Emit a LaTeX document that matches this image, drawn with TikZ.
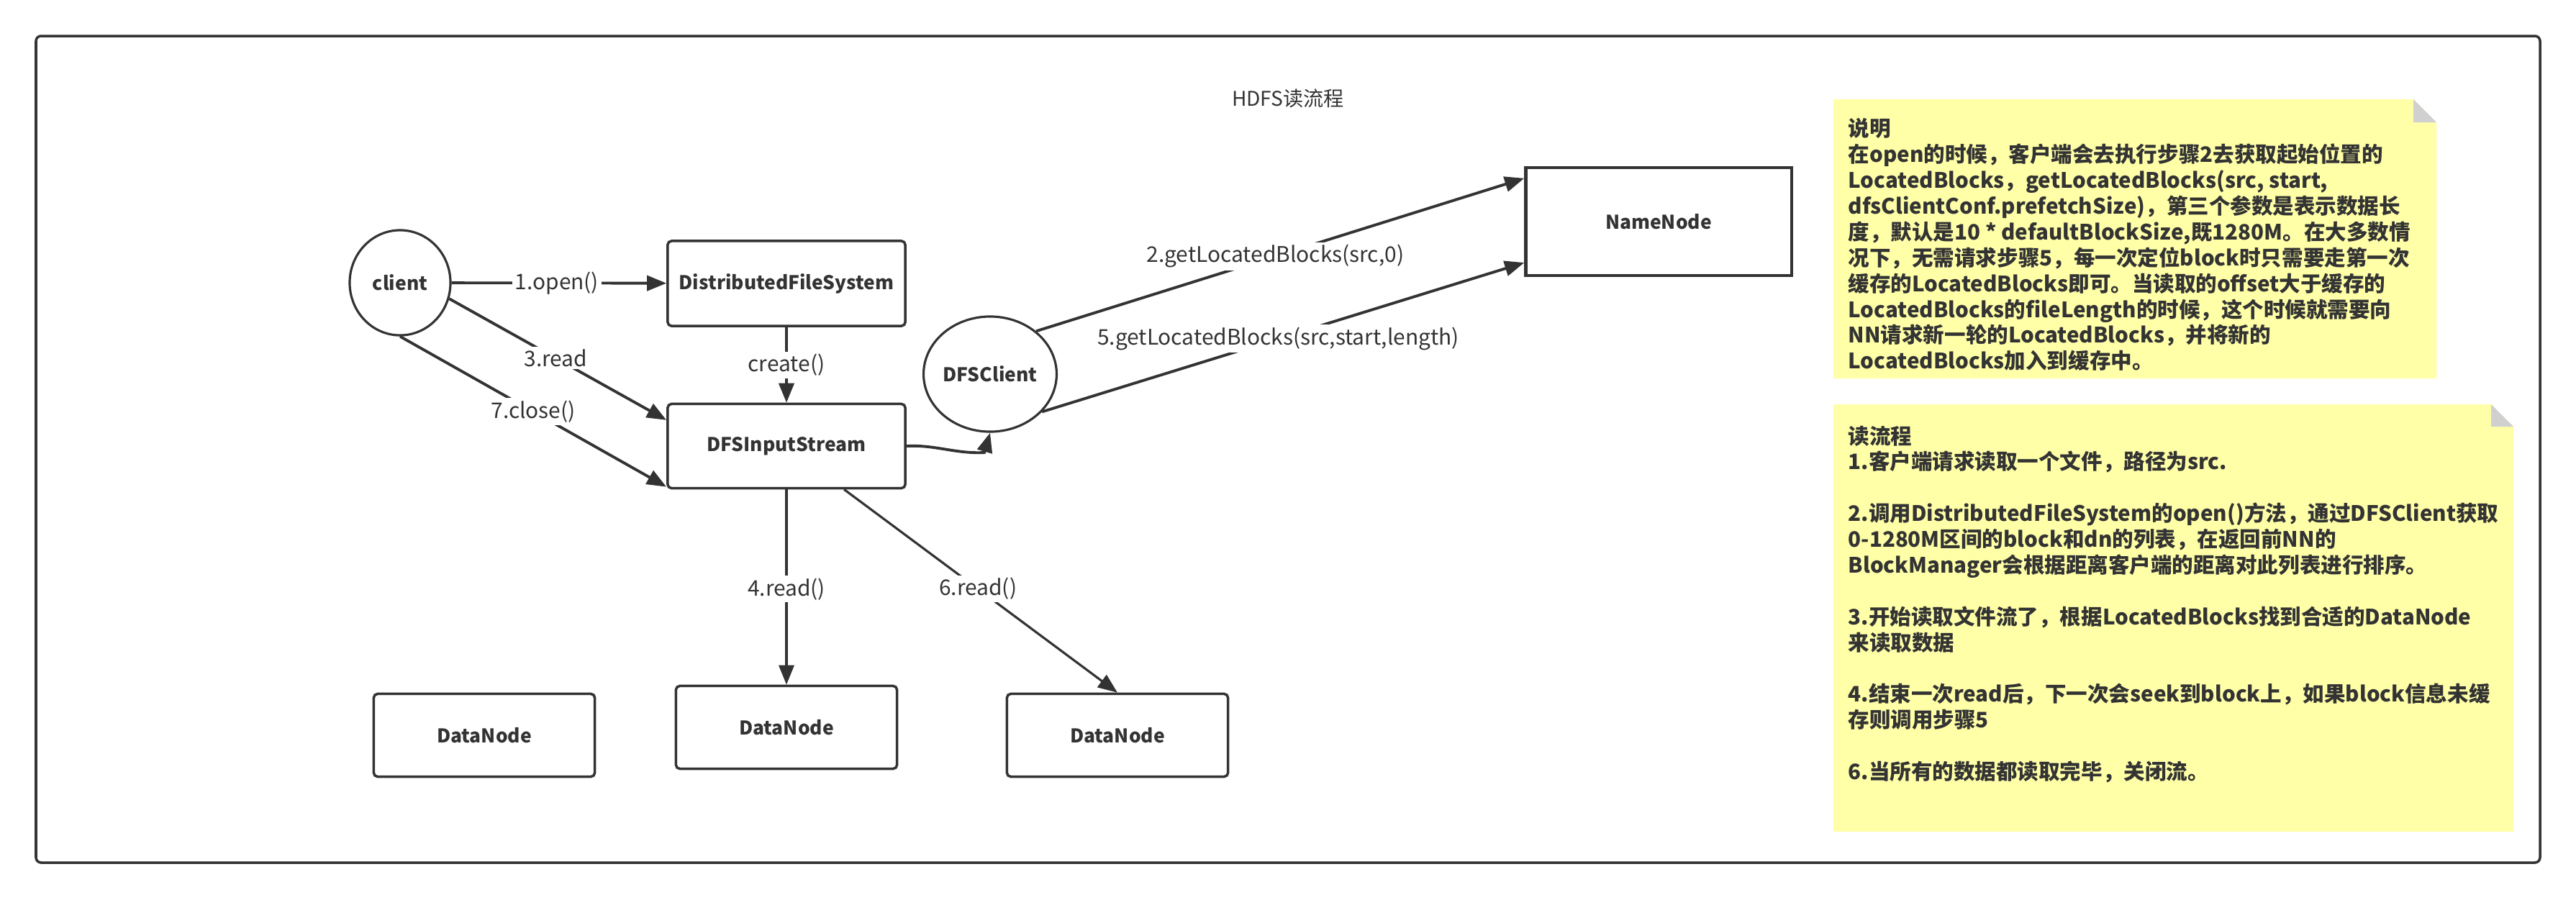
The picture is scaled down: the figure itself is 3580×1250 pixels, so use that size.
\documentclass[tikz,border=0pt]{standalone}
\usepackage{fontspec}
\setmainfont{Noto Sans CJK SC}
\usetikzlibrary{arrows.meta,calc,shapes.geometric}

\definecolor{ink}{HTML}{333333}
\definecolor{memo}{HTML}{FFFFA8}
\definecolor{fold}{HTML}{D0D0D0}

\tikzset{
    obj/.style={draw=ink,line width=1pt,rounded corners=1.5pt,minimum width=3.07cm,minimum height=1.15cm,text=ink,font=\bfseries\fontsize{7.5}{9}\selectfont},
    proc/.style={shape=ellipse,draw=ink,line width=0.9pt,inner sep=0pt,text=ink,font=\bfseries\fontsize{7.5}{9}\selectfont},
    call/.style={draw=ink,line width=1.1pt,-{Triangle[length=7.7pt,width=6pt]}},
    lbl/.style={fill=white,inner sep=1pt,text=ink,font=\fontsize{8.5}{10}\selectfont},
    memotext/.style={anchor=north west,align=left,inner sep=0pt,text=ink,font=\bfseries\fontsize{8.4}{10.2}\selectfont}
}

\begin{document}
\begin{tikzpicture}[x=0.01cm,y=-0.01cm]
    \useasboundingbox (0,0) rectangle (3580,1250);
    \draw[ink,line width=1pt,rounded corners=2pt] (50,50) rectangle (3530,1199);
    \node[text=ink,font=\fontsize{8}{10}\selectfont] (title) at (1790,137) {HDFS读流程};

    % nodes
    \node[proc,minimum width=1.4cm,minimum height=1.46cm] (client) at (556,393) {client};
    \node[obj,minimum width=3.3cm,minimum height=1.18cm] (dfs) at (1093,394) {DistributedFileSystem};
    \node[obj,minimum width=3.3cm,minimum height=1.17cm] (dis) at (1093,620) {DFSInputStream};
    \node[proc,minimum width=1.72cm,minimum height=1.6cm] (dfsc) at (1376,520) {DFSClient};
    \node[obj,rounded corners=0pt,line width=1.2pt,minimum width=3.69cm,minimum height=1.5cm] (nn) at (2305,308) {NameNode};
    \node[obj] (dn1) at (673,1022) {DataNode};
    \node[obj] (dn2) at (1093,1011) {DataNode};
    \node[obj] (dn3) at (1553,1022) {DataNode};
    \coordinate (wv) at (1368,629);

    % calls
    \path (client) edge[call] node[lbl,pos=0.49]{1.open()} (dfs);
    \path (dfs) edge[call] node[lbl]{create()} (dis);
    \path (client.-18) edge[call] node[lbl,pos=0.49]{3.read} ($(dis.north west)!0.2!(dis.south west)$);
    \path (client.south) edge[call] node[lbl]{7.close()} ($(dis.north west)!0.97!(dis.south west)$);
    \draw[call] (dis.east) .. controls +(40,-2) and +(-40,2) .. (wv) -- (dfsc.south);
    \path (dfsc.43) edge[call] node[lbl,pos=0.49]{2.getLocatedBlocks(src,0)} ($(nn.north west)!0.11!(nn.south west)$);
    \path (dfsc.-36) edge[call] node[lbl,pos=0.49]{5.getLocatedBlocks(src,start,length)} ($(nn.north west)!0.87!(nn.south west)$);
    \path (dis) edge[call,line width=0.9pt] node[lbl,pos=0.51]{4.read()} (dn2);
    \path ($(dis.south west)!0.74!(dis.south east)$) edge[call,line width=0.9pt] node[lbl,pos=0.49]{6.read()} (dn3.north);

    % notes
    \fill[memo] (2548,138) -- (3354,138) -- (3386,170) -- (3386,526) -- (2548,526) -- cycle;
    \fill[fold] (3354,138) -- (3354,170) -- (3386,170) -- cycle;
    \node[memotext] (memo1) at (2568,164) {说明\\
        在open的时候，客户端会去执行步骤2去获取起始位置的\\
        LocatedBlocks，getLocatedBlocks(src, start,\\
        dfsClientConf.prefetchSize)，第三个参数是表示数据长\\
        度，默认是10 * defaultBlockSize,既1280M。在大多数情\\
        况下，无需请求步骤5，每一次定位block时只需要走第一次\\
        缓存的LocatedBlocks即可。当读取的offset大于缓存的\\
        LocatedBlocks的fileLength的时候，这个时候就需要向\\
        NN请求新一轮的LocatedBlocks，并将新的\\
        LocatedBlocks加入到缓存中。};

    \fill[memo] (2548,562) -- (3462,562) -- (3493,593) -- (3493,1156) -- (2548,1156) -- cycle;
    \fill[fold] (3462,562) -- (3462,593) -- (3493,593) -- cycle;
    \node[memotext] (memo2) at (2568,591) {读流程\\
        1.客户端请求读取一个文件，路径为src.\\[10.2pt]
        2.调用DistributedFileSystem的open()方法，通过DFSClient获取\\
        0-1280M区间的block和dn的列表，在返回前NN的\\
        BlockManager会根据距离客户端的距离对此列表进行排序。\\[10.2pt]
        3.开始读取文件流了，根据LocatedBlocks找到合适的DataNode\\
        来读取数据\\[10.2pt]
        4.结束一次read后，下一次会seek到block上，如果block信息未缓\\
        存则调用步骤5\\[10.2pt]
        6.当所有的数据都读取完毕，关闭流。};

\end{tikzpicture}
\end{document}
